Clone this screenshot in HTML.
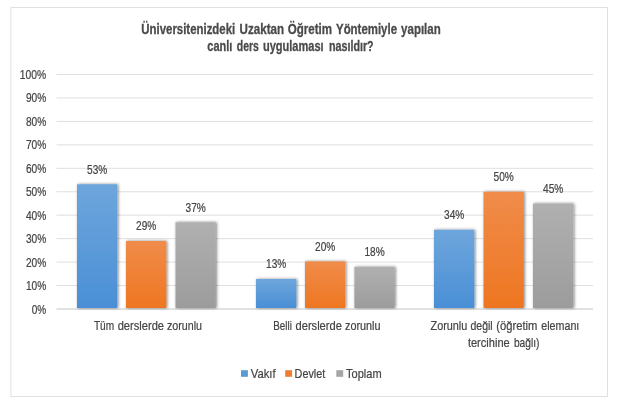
<!DOCTYPE html>
<html><head><meta charset="utf-8"><title>Chart</title>
<style>
html,body{margin:0;padding:0;background:#fff;}
body{width:620px;height:410px;overflow:hidden;}
svg{display:block;}
text{font-family:"Liberation Sans",sans-serif;fill:#444444;}
.t{font-weight:bold;font-size:14.6px;fill:#4a4a4a;stroke:#4a4a4a;stroke-width:0.3px;}
.a{font-size:12.8px;stroke:#444444;stroke-width:0.22px;}
.d{font-size:12.2px;}
</style></head><body>
<svg width="620" height="410" viewBox="0 0 620 410">
<defs>
<linearGradient id="gb" x1="0" y1="0" x2="0" y2="1"><stop offset="0" stop-color="#6ea6dc"/><stop offset="1" stop-color="#4a8fd6"/></linearGradient>
<linearGradient id="go" x1="0" y1="0" x2="0" y2="1"><stop offset="0" stop-color="#f08c4a"/><stop offset="1" stop-color="#ee7621"/></linearGradient>
<linearGradient id="gg" x1="0" y1="0" x2="0" y2="1"><stop offset="0" stop-color="#b0b0b0"/><stop offset="1" stop-color="#9c9c9c"/></linearGradient>
<filter id="sh" x="-20%" y="-20%" width="150%" height="140%"><feGaussianBlur in="SourceAlpha" stdDeviation="1.7"/><feOffset dx="0.5" dy="0.3"/><feComponentTransfer><feFuncA type="linear" slope="0.5"/></feComponentTransfer><feMerge><feMergeNode/><feMergeNode in="SourceGraphic"/></feMerge></filter>
</defs>
<rect x="0" y="0" width="620" height="410" fill="#fff"/>
<rect x="10.9" y="7.5" width="596.6" height="389" fill="#fff" stroke="#e0e0e0" stroke-width="1"/>

<line x1="56.5" x2="593" y1="309.00" y2="309.00" stroke="#c4c4c4" stroke-width="1"/>
<text class="a d" x="46.20" y="313.50" text-anchor="end" textLength="14.5" lengthAdjust="spacingAndGlyphs">0%</text>
<line x1="56.5" x2="593" y1="285.55" y2="285.55" stroke="#dfdfdf" stroke-width="1"/>
<text class="a d" x="46.20" y="290.05" text-anchor="end" textLength="20.3" lengthAdjust="spacingAndGlyphs">10%</text>
<line x1="56.5" x2="593" y1="262.10" y2="262.10" stroke="#dfdfdf" stroke-width="1"/>
<text class="a d" x="46.20" y="266.60" text-anchor="end" textLength="20.3" lengthAdjust="spacingAndGlyphs">20%</text>
<line x1="56.5" x2="593" y1="238.65" y2="238.65" stroke="#dfdfdf" stroke-width="1"/>
<text class="a d" x="46.20" y="243.15" text-anchor="end" textLength="20.3" lengthAdjust="spacingAndGlyphs">30%</text>
<line x1="56.5" x2="593" y1="215.20" y2="215.20" stroke="#dfdfdf" stroke-width="1"/>
<text class="a d" x="46.20" y="219.70" text-anchor="end" textLength="20.3" lengthAdjust="spacingAndGlyphs">40%</text>
<line x1="56.5" x2="593" y1="191.75" y2="191.75" stroke="#dfdfdf" stroke-width="1"/>
<text class="a d" x="46.20" y="196.25" text-anchor="end" textLength="20.3" lengthAdjust="spacingAndGlyphs">50%</text>
<line x1="56.5" x2="593" y1="168.30" y2="168.30" stroke="#dfdfdf" stroke-width="1"/>
<text class="a d" x="46.20" y="172.80" text-anchor="end" textLength="20.3" lengthAdjust="spacingAndGlyphs">60%</text>
<line x1="56.5" x2="593" y1="144.85" y2="144.85" stroke="#dfdfdf" stroke-width="1"/>
<text class="a d" x="46.20" y="149.35" text-anchor="end" textLength="20.3" lengthAdjust="spacingAndGlyphs">70%</text>
<line x1="56.5" x2="593" y1="121.40" y2="121.40" stroke="#dfdfdf" stroke-width="1"/>
<text class="a d" x="46.20" y="125.90" text-anchor="end" textLength="20.3" lengthAdjust="spacingAndGlyphs">80%</text>
<line x1="56.5" x2="593" y1="97.95" y2="97.95" stroke="#dfdfdf" stroke-width="1"/>
<text class="a d" x="46.20" y="102.45" text-anchor="end" textLength="20.3" lengthAdjust="spacingAndGlyphs">90%</text>
<line x1="56.5" x2="593" y1="74.50" y2="74.50" stroke="#dfdfdf" stroke-width="1"/>
<text class="a d" x="46.20" y="79.00" text-anchor="end" textLength="26.4" lengthAdjust="spacingAndGlyphs">100%</text>
<g filter="url(#sh)">
<rect x="77" y="184.25" width="40.3" height="123.75" fill="url(#gb)"/>
<rect x="126" y="241.00" width="40.3" height="67.00" fill="url(#go)"/>
<rect x="175.5" y="222.24" width="40.3" height="85.76" fill="url(#gg)"/>
<rect x="256" y="278.98" width="40.3" height="29.02" fill="url(#gb)"/>
<rect x="305" y="261.40" width="40.3" height="46.60" fill="url(#go)"/>
<rect x="354.4" y="266.79" width="40.3" height="41.21" fill="url(#gg)"/>
<rect x="434" y="229.74" width="40.3" height="78.26" fill="url(#gb)"/>
<rect x="483.5" y="191.75" width="40.3" height="116.25" fill="url(#go)"/>
<rect x="533" y="203.47" width="40.3" height="104.53" fill="url(#gg)"/>
</g>
<text class="a d" x="97.15" y="173.65" text-anchor="middle" textLength="20.2" lengthAdjust="spacingAndGlyphs">53%</text>
<text class="a d" x="146.15" y="230.40" text-anchor="middle" textLength="20.2" lengthAdjust="spacingAndGlyphs">29%</text>
<text class="a d" x="195.65" y="211.64" text-anchor="middle" textLength="20.2" lengthAdjust="spacingAndGlyphs">37%</text>
<text class="a d" x="276.15" y="268.38" text-anchor="middle" textLength="20.2" lengthAdjust="spacingAndGlyphs">13%</text>
<text class="a d" x="325.15" y="250.80" text-anchor="middle" textLength="20.2" lengthAdjust="spacingAndGlyphs">20%</text>
<text class="a d" x="374.55" y="256.19" text-anchor="middle" textLength="20.2" lengthAdjust="spacingAndGlyphs">18%</text>
<text class="a d" x="454.15" y="219.14" text-anchor="middle" textLength="20.2" lengthAdjust="spacingAndGlyphs">34%</text>
<text class="a d" x="503.65" y="181.15" text-anchor="middle" textLength="20.2" lengthAdjust="spacingAndGlyphs">50%</text>
<text class="a d" x="553.15" y="192.88" text-anchor="middle" textLength="20.2" lengthAdjust="spacingAndGlyphs">45%</text>
<text class="t" y="33.50"><tspan x="141.3" textLength="93.9" lengthAdjust="spacingAndGlyphs">Üniversitenizdeki</tspan> <tspan x="239.6" textLength="44.5" lengthAdjust="spacingAndGlyphs">Uzaktan</tspan> <tspan x="287.8" textLength="44.3" lengthAdjust="spacingAndGlyphs">Öğretim</tspan> <tspan x="336.0" textLength="61.0" lengthAdjust="spacingAndGlyphs">Yöntemiyle</tspan> <tspan x="401.1" textLength="39.6" lengthAdjust="spacingAndGlyphs">yapılan</tspan></text>
<text class="t" y="50.90"><tspan x="207.3" textLength="25.0" lengthAdjust="spacingAndGlyphs">canlı</tspan> <tspan x="236.8" textLength="22.1" lengthAdjust="spacingAndGlyphs">ders</tspan> <tspan x="262.9" textLength="60.8" lengthAdjust="spacingAndGlyphs">uygulaması</tspan> <tspan x="328.9" textLength="44.8" lengthAdjust="spacingAndGlyphs">nasıldır?</tspan></text>
<text class="a" y="330.20"><tspan x="93.9" textLength="20.2" lengthAdjust="spacingAndGlyphs">Tüm</tspan> <tspan x="117.7" textLength="46.3" lengthAdjust="spacingAndGlyphs">derslerde</tspan> <tspan x="167.0" textLength="35.0" lengthAdjust="spacingAndGlyphs">zorunlu</tspan></text>
<text class="a" y="330.20"><tspan x="273.2" textLength="18.7" lengthAdjust="spacingAndGlyphs">Belli</tspan> <tspan x="295.5" textLength="46.4" lengthAdjust="spacingAndGlyphs">derslerde</tspan> <tspan x="345.0" textLength="35.5" lengthAdjust="spacingAndGlyphs">zorunlu</tspan></text>
<text class="a" y="330.20"><tspan x="430.5" textLength="36.8" lengthAdjust="spacingAndGlyphs">Zorunlu</tspan> <tspan x="470.5" textLength="22.2" lengthAdjust="spacingAndGlyphs">değil</tspan> <tspan x="496.3" textLength="41.1" lengthAdjust="spacingAndGlyphs">(öğretim</tspan> <tspan x="541.3" textLength="38.0" lengthAdjust="spacingAndGlyphs">elemanı</tspan></text>
<text class="a" y="347.20"><tspan x="467.9" textLength="41.8" lengthAdjust="spacingAndGlyphs">tercihine</tspan> <tspan x="513.9" textLength="25.5" lengthAdjust="spacingAndGlyphs">bağlı)</tspan></text>
<rect x="241" y="370.2" width="6.9" height="6.6" fill="#5b9bd5"/>
<text class="a" x="250.70" y="377.80" text-anchor="start" textLength="24.9" lengthAdjust="spacingAndGlyphs">Vakıf</text>
<rect x="285.2" y="370.2" width="6.9" height="6.6" fill="#ed7d31"/>
<text class="a" x="294.60" y="377.80" text-anchor="start" textLength="30.6" lengthAdjust="spacingAndGlyphs">Devlet</text>
<rect x="336.3" y="370.2" width="6.9" height="6.6" fill="#a5a5a5"/>
<text class="a" x="346.10" y="377.80" text-anchor="start" textLength="35.5" lengthAdjust="spacingAndGlyphs">Toplam</text>
</svg>
</body></html>
